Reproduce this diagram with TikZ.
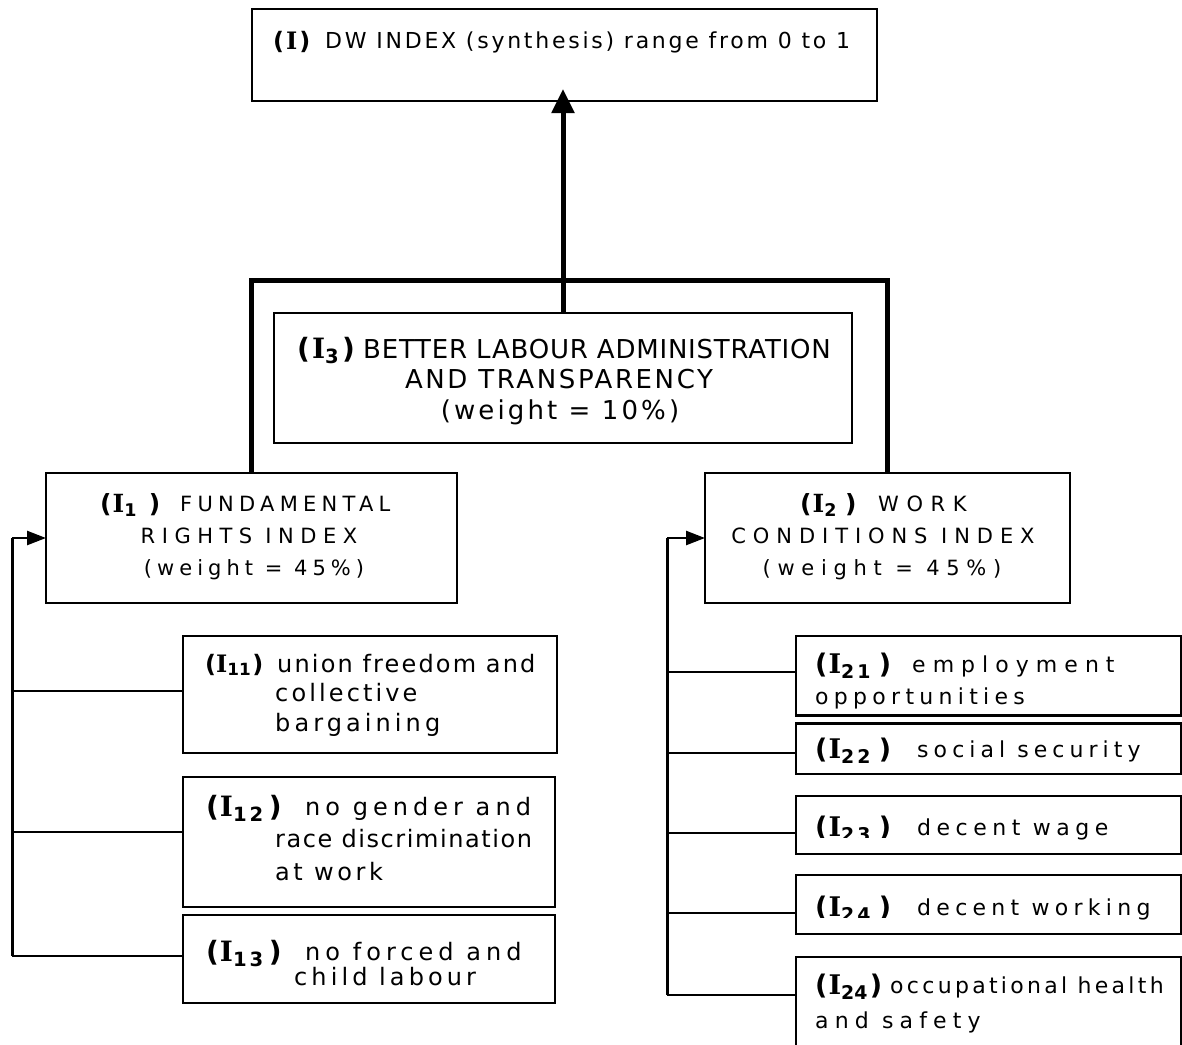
\documentclass[tikz,border=0pt]{standalone}
\usepackage{fontspec}
\setmainfont{DejaVu Sans}
\newfontfamily\lblserif{DejaVu Serif}
\usetikzlibrary{arrows.meta,calc}
\newcommand\tx[3]{\fontsize{#1}{#1}\selectfont\addfontfeature{LetterSpace=#2}#3}
% size, gap before I, gap before ), subscript
\newcommand\lab[4]{\fontsize{#1}{#1}\selectfont\bfseries(\hspace{#2}{\lblserif\bfseries I}\textsubscript{#4}\hspace{#3})}
\newcommand\labI[2]{\fontsize{#1}{#1}\selectfont\bfseries(\hspace{#2}{\lblserif\bfseries I}\hspace{#2})}
\tikzset{
  boxn/.style={draw, line width=2.5pt, inner sep=0pt, outer sep=0pt, anchor=north west},
  txtl/.style={inner sep=0pt, anchor=base west},
  txtc/.style={inner sep=0pt, anchor=base},
  brk/.style={line width=5pt, line join=miter},
  fbv/.style={line width=3pt},
  fbh/.style={line width=2.5pt},
  bigarrow/.style={-{Triangle[length=24pt,width=22pt]}},
  smallarrow/.style={-{Triangle[length=19pt,width=14pt]}},
}
\begin{document}
\begin{tikzpicture}[x=1pt,y=-1pt]
\useasboundingbox (0,0) rectangle (1182,1044);
% boxes
\node[boxn, minimum width=625pt, minimum height=92pt] (top) at (252,9) {};
\node[boxn, minimum width=578pt, minimum height=130pt] (I3) at (274,313) {};
\node[boxn, minimum width=411pt, minimum height=130pt] (I1) at (46,473) {};
\node[boxn, minimum width=365pt, minimum height=130pt] (I2) at (705,473) {};
\node[boxn, minimum width=374pt, minimum height=117pt] (I11) at (183,636) {};
\node[boxn, minimum width=372pt, minimum height=130pt] (I12) at (183,777) {};
\node[boxn, minimum width=372pt, minimum height=88pt] (I13) at (183,915) {};
\node[boxn, minimum width=385pt, minimum height=79.5pt] (I21) at (796,636) {};
\node[boxn, minimum width=385pt, minimum height=50.5pt] (I22) at (796,723.5) {};
\node[boxn, minimum width=385pt, minimum height=58pt] (I23) at (796,796) {};
\node[boxn, minimum width=385pt, minimum height=59pt] (I24) at (796,875) {};
\node[boxn, minimum width=385pt, minimum height=92pt] (I25) at (796,957) {};
% bracket and main arrow
\coordinate (bar) at (564,280);
\coordinate (tipT) at ([yshift=12pt]top.south);
\draw[brk] (I1.north) |- (bar) -| (I2.north);
\draw[brk, bigarrow] (I3.north) -- (I3.north |- tipT);
% left feedback
\coordinate (LT) at (12,538);
\coordinate (L11) at ($(I11.north west)+(0,55)$);
\coordinate (L12) at ($(I12.north west)+(0,55)$);
\coordinate (L13) at ($(I13.north west)+(0,41)$);
\draw[fbv] (LT) -- (LT |- L13);
\draw[fbh] (L13) -- (L13 -| LT);
\draw[fbh] (L11) -- (L11 -| LT);
\draw[fbh] (L12) -- (L12 -| LT);
\draw[fbh, smallarrow] (LT) -- (LT -| I1.west);
% right feedback
\coordinate (RT) at (667,538);
\coordinate (R21) at ($(I21.north west)+(0,36)$);
\coordinate (R22) at ($(I22.north west)+(0,29.5)$);
\coordinate (R23) at ($(I23.north west)+(0,37)$);
\coordinate (R24) at ($(I24.north west)+(0,38)$);
\coordinate (R25) at ($(I25.north west)+(0,38)$);
\draw[fbv] (RT) -- (RT |- R25);
\foreach \r in {R21,R22,R23,R24,R25} \draw[fbh] (\r) -- (\r -| RT);
\draw[fbh, smallarrow] (RT) -- (RT -| I2.west);
% texts: top
\node[txtl] (tTl) at (273,49) {\labI{24}{2pt}};
\node[txtl] (tTb) at (325,48) {\tx{22}{12.5}{DW INDEX (synthesis) range from 0 to 1}};
% I3
\node[txtl] (t3l) at (297,358) {\lab{28}{2pt}{3pt}{3}};
\node[txtl] (t3a) at (363,358) {\tx{26}{3}{BETTER LABOUR ADMINISTRATION}};
\node[txtc] (t3b) at (559,388) {\tx{26}{10}{AND TRANSPARENCY}};
\node[txtc] (t3c) at (560,419) {\tx{26}{12}{(weight = 10\%)}};
% I1
\node[txtl] (t1l) at (100,512) {\lab{25}{1pt}{12pt}{1}};
\node[txtl] (t1a) at (180,511) {\tx{21}{25}{FUNDAMENTAL}};
\node[txtc] (t1b) at (249,543) {\tx{21}{31}{RIGHTS INDEX}};
\node[txtc] (t1c) at (254,575) {\tx{21}{24}{(weight = 45\%)}};
% I2
\node[txtl] (t2l) at (800,512) {\lab{25}{1pt}{8pt}{2}};
\node[txtl] (t2a) at (878,511) {\tx{21}{36}{WORK}};
\node[txtc] (t2b) at (883,543) {\tx{21}{33}{CONDITIONS INDEX}};
\node[txtc] (t2c) at (882,575) {\tx{21}{32}{(weight = 45\%)}};
% I11
\node[txtl] (t11l) at (205,672) {\lab{24}{0pt}{1pt}{11}};
\node[txtl] (t11a) at (277,672) {\tx{24}{9}{union freedom and}};
\node[txtl] (t11b) at (275,701) {\tx{24}{13}{collective}};
\node[txtl] (t11c) at (275,731) {\tx{24}{17}{bargaining}};
% I12
\node[txtl] (t12l) at (206,816) {\lab{28}{1pt}{5pt}{1\hspace{3pt}2}};
\node[txtl] (t12a) at (305,815) {\tx{24}{21}{no gender and}};
\node[txtl] (t12b) at (275,847) {\tx{24}{6.5}{race discrimination}};
\node[txtl] (t12c) at (275,880) {\tx{24}{15}{at work}};
% I13
\node[txtl] (t13l) at (206,961) {\lab{28}{1pt}{5pt}{1\hspace{3pt}3}};
\node[txtl] (t13a) at (305,960) {\tx{24}{21}{no forced and}};
\node[txtl] (t13b) at (294,985) {\tx{24}{17}{child labour}};
% I21, I22
\node[txtl] (t21l) at (815,673) {\lab{27}{1pt}{8pt}{2\hspace{3pt}1}};
\node[txtl] (t21a) at (912,672) {\tx{22}{32}{employment}};
\node[txtl] (t21b) at (815,704) {\tx{22}{24}{opportunities}};
\node[txtl] (t22l) at (815,758) {\lab{27}{1pt}{8pt}{2\hspace{3pt}2}};
\node[txtl] (t22a) at (917,757) {\tx{22}{23}{social security}};
% I23 (label clipped)
\begin{scope}
\clip (796,790) rectangle (1182,837);
\node[txtl] (t23l) at (815,836) {\lab{27}{1pt}{8pt}{2\hspace{3pt}3}};
\end{scope}
\node[txtl] (t23a) at (917,835) {\tx{22}{25}{decent wage}};
% I24 (label clipped)
\begin{scope}
\clip (796,870) rectangle (1182,917);
\node[txtl] (t24l) at (815,916) {\lab{27}{1pt}{8pt}{2\hspace{3pt}4}};
\end{scope}
\node[txtl] (t24a) at (917,915) {\tx{22}{24}{decent working}};
% I24 occupational
\node[txtl] (t25l) at (815,994) {\lab{27}{1pt}{2pt}{24}};
\node[txtl] (t25a) at (890,993) {\tx{22}{15}{occupational health}};
\node[txtl] (t25b) at (815,1028) {\tx{22}{28}{and safety}};
\end{tikzpicture}
\end{document}
